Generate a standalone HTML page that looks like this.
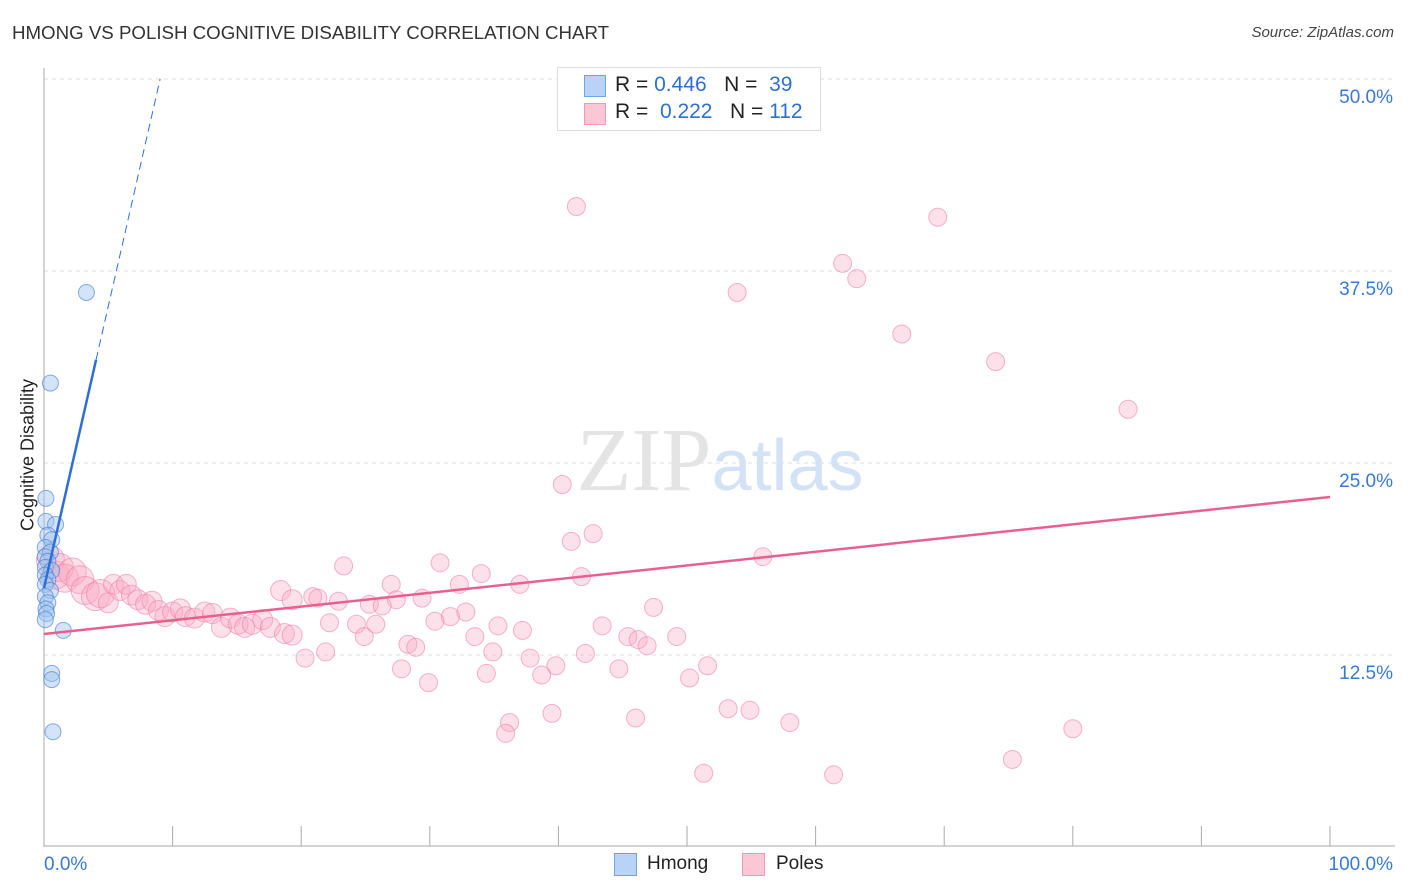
<!DOCTYPE html>
<html><head><meta charset="utf-8"><style>
body{margin:0;background:#fff;font-family:"Liberation Sans",sans-serif;}
#wrap{position:relative;width:1406px;height:892px;overflow:hidden}
.t{position:absolute;white-space:nowrap}
</style></head><body>
<div id="wrap">
<div class="t" style="left:12px;top:22px;font-size:18.7px;color:#333">HMONG VS POLISH COGNITIVE DISABILITY CORRELATION CHART</div>
<div class="t" style="right:12px;top:24px;font-size:15px;color:#444;font-style:italic">Source: ZipAtlas.com</div>
<svg id="svg" width="1406" height="892" style="position:absolute;left:0;top:0"></svg>
<div class="t" style="left:28px;top:455px;font-size:18px;color:#222;transform:translate(-50%,-50%) rotate(-90deg)">Cognitive Disability</div>
<div style="position:absolute;left:557px;top:67px;width:262px;height:62px;border:1px solid #ddd;background:#fff"></div>
<div style="position:absolute;left:584px;top:75px;width:20px;height:20px;background:#b8d3f5;border:1px solid #6fa3e6"></div>
<div style="position:absolute;left:584px;top:103px;width:20px;height:20px;background:#fbc6d6;border:1px solid #f09ab5"></div>
<div class="t" style="left:615px;top:73px;font-size:21px;color:#222">R = <span style="color:#2f6fd0">0.446</span>&nbsp;&nbsp;&nbsp;N = &nbsp;<span style="color:#2f6fd0">39</span></div>
<div class="t" style="left:615px;top:100px;font-size:21px;color:#222">R = &nbsp;<span style="color:#2f6fd0">0.222</span>&nbsp;&nbsp;&nbsp;N = <span style="color:#2f6fd0">112</span></div>
<div style="position:absolute;left:614px;top:853px;width:21px;height:21px;background:#b8d3f5;border:1px solid #6fa3e6"></div>
<div class="t" style="left:647px;top:853px;font-size:19px;color:#222">Hmong</div>
<div style="position:absolute;left:742px;top:853px;width:21px;height:21px;background:#fbc6d6;border:1px solid #f09ab5"></div>
<div class="t" style="left:776px;top:853px;font-size:19px;color:#222">Poles</div>
</div>
<script>
const yTicks=[12.5,25,37.5,50];
const yTickLabels=["12.5%","25.0%","37.5%","50.0%"];
const xTickLabels=["0.0%","100.0%"];
const polesX=[41.4,69.5,62.1,63.2,53.9,66.7,74.0,84.3,40.3,42.7,41.0,55.9,30.8,23.3,41.8,34.0,27.0,32.3,37.0,18.4,20.9,19.3,21.3,22.9,25.3,27.4,29.4,26.3,47.4,32.8,31.6,30.4,22.2,24.3,25.8,43.4,35.3,37.2,33.5,45.4,46.2,46.9,49.2,24.9,28.3,28.9,34.9,42.1,37.8,39.8,44.7,51.6,20.3,21.9,27.8,34.4,38.7,50.2,29.9,53.2,54.9,39.5,46.0,58.0,36.2,35.9,80.0,75.3,51.3,61.4,0.5,0.9,1.2,1.6,2.2,2.8,3.2,4.0,4.4,5.0,5.4,5.9,6.4,6.8,7.3,7.9,8.4,8.9,9.4,10.0,10.6,11.0,11.7,12.5,13.1,13.8,14.5,15.1,15.6,16.2,17.0,17.6,18.7,19.3];
const polesY=[41.7,41.0,38.0,37.0,36.1,33.4,31.6,28.5,23.6,20.4,19.9,18.9,18.5,18.3,17.6,17.8,17.1,17.1,17.1,16.7,16.3,16.1,16.2,16.0,15.8,16.1,16.2,15.7,15.6,15.3,15.0,14.7,14.6,14.5,14.5,14.4,14.4,14.1,13.7,13.7,13.5,13.1,13.7,13.7,13.2,13.0,12.7,12.6,12.3,11.8,11.6,11.8,12.3,12.7,11.6,11.3,11.2,11.0,10.7,9.0,8.9,8.7,8.4,8.1,8.1,7.4,7.7,5.7,4.8,4.7,18.7,17.7,18.2,17.5,17.9,17.4,16.7,16.3,16.5,15.9,17.1,16.7,17.1,16.4,16.1,15.8,16.0,15.4,15.0,15.3,15.5,15.0,14.9,15.3,15.2,14.3,14.9,14.5,14.3,14.5,14.8,14.3,13.9,13.8];
const hmongX=[3.3,0.5,0.15,0.15,0.9,0.3,0.6,0.1,0.5,0.1,0.3,0.1,0.6,0.1,0.3,0.1,0.5,0.1,0.3,0.15,0.2,0.1,1.5,0.6,0.6,0.7];
const hmongY=[36.1,30.2,22.7,21.2,21.0,20.3,20.0,19.5,19.2,18.9,18.6,18.2,18.0,17.7,17.4,17.1,16.7,16.3,15.9,15.5,15.2,14.8,14.1,11.3,10.9,7.5];
const polesFit=[13.87,22.79];
const hmongFit=[16.86,3.67];
const X0=44,X1=1330,Y0=847,PPY=15.36;
const sx=v=>X0+(X1-X0)*v/100, sy=v=>Y0-v*PPY;
const svg=document.getElementById('svg');const NS='http://www.w3.org/2000/svg';
function mk(t,a){const e=document.createElementNS(NS,t);for(const k in a)e.setAttribute(k,a[k]);svg.appendChild(e);return e;}
yTicks.forEach((v,i)=>{
 const l=mk('line',{x1:X0,x2:1395,y1:sy(v),y2:sy(v),stroke:'#ddd','stroke-dasharray':'4,4'});
 
 
 const t=mk('text',{x:1393,y:sy(v)+24,'text-anchor':'end','font-size':19,fill:'#3a78d8','font-family':'Liberation Sans'});t.textContent=yTickLabels[i];
 
 
});
const ax=mk('line',{x1:X0,x2:X0,y1:68,y2:847,stroke:'#aaa'});


const bx=mk('line',{x1:X0,x2:1395,y1:846,y2:846,stroke:'#aaa'});


for(let i=1;i<=10;i++){const tk=mk('line',{x1:sx(i*10),x2:sx(i*10),y1:826,y2:846,stroke:'#aaa'});
 
 }
xTickLabels.forEach((s,i)=>{const t=mk('text',{x:i?1393:44,y:870,'text-anchor':i?'end':'start','font-size':19,fill:'#3a78d8','font-family':'Liberation Sans'});t.textContent=s;
 
 });
const wm=mk('text',{x:720,y:490,'text-anchor':'middle','font-size':90,'font-family':'Liberation Serif',fill:'#e4e4e4'});wm.innerHTML='ZIP<tspan fill="#d3e2f5" font-family="Liberation Sans" font-size="72">atlas</tspan>';


polesX.forEach((x,i)=>{const c=mk('circle',{cx:sx(x),cy:sy(polesY[i]),r:x<5?14:(x<20?10:9),fill:'rgba(248,170,195,0.35)',stroke:'rgba(238,130,165,0.6)','stroke-width':1});
 
 });
hmongX.forEach((x,i)=>{const c=mk('circle',{cx:sx(x),cy:sy(hmongY[i]),r:8,fill:'rgba(160,195,240,0.45)',stroke:'rgba(60,120,210,0.6)','stroke-width':1});
 
 });
const pl=mk('line',{x1:sx(0),y1:sy(polesFit[0]),x2:sx(100),y2:sy(polesFit[1]),stroke:'#e8608c','stroke-width':2.5});


const xe=4.05, xd=(50-hmongFit[0])/hmongFit[1];
const hl=mk('line',{x1:sx(0),y1:sy(hmongFit[0]),x2:sx(xe),y2:sy(hmongFit[0]+hmongFit[1]*xe),stroke:'#2e6fd6','stroke-width':2.5});


const hd=mk('line',{x1:sx(xe),y1:sy(hmongFit[0]+hmongFit[1]*xe),x2:sx(xd),y2:sy(50),stroke:'#2e6fd6','stroke-width':1,'stroke-dasharray':'8,5'});


</script>
</body></html>
